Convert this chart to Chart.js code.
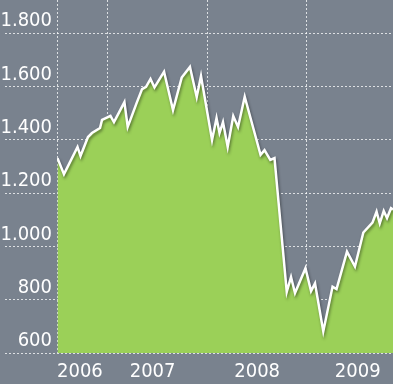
<!DOCTYPE html>
<html>
<head>
<meta charset="utf-8">
<script src="https://cdn.jsdelivr.net/npm/chart.js@4.4.1/dist/chart.umd.min.js"></script>
<style>
html,body{margin:0;padding:0;background:#79828e;}
#wrap{width:393px;height:384px;position:relative;}
</style>
</head>
<body>
<div id="wrap"><canvas id="c" width="393" height="384"></canvas></div>
<script>
// Time in decimal years
const dates = [2006.495,2006.560,2006.696,2006.726,2006.801,2006.841,2006.922,2006.942,2007.027,2007.062,
  2007.167,2007.200,2007.290,2007.344,2007.384,2007.429,2007.469,2007.565,2007.655,2007.742,
  2007.825,2007.893,2007.936,2008.047,2008.092,2008.122,2008.157,2008.204,2008.260,2008.308,
  2008.375,2008.534,2008.574,2008.632,2008.674,2008.797,2008.840,2008.880,2008.985,2009.041,
  2009.081,2009.164,2009.257,2009.297,2009.402,2009.482,2009.566,2009.658,2009.699,2009.731,
  2009.771,2009.804,2009.844,2009.864];
const values = [1331,1271,1373,1339,1410,1425,1444,1474,1489,1466,
  1541,1448,1538,1590,1598,1628,1596,1655,1511,1633,
  1673,1560,1639,1399,1481,1425,1466,1373,1489,1448,
  1561,1343,1361,1324,1331,829,885,825,918,832,
  861,681,849,840,980,924,1052,1089,1130,1086,
  1133,1106,1143,1138];
const yTicks = [600,800,1000,1200,1400,1600,1800];
const yearLabels = ['2006','2007','2008','2009'];
const yearLabelPos = [2006.72,2007.45,2008.5,2009.51];
const yearBounds = [2006.49,2007,2008,2009];

const pts = dates.map((d,i)=>({x:d,y:values[i]}));
const FONT = '"DejaVu Sans Condensed","Roboto",sans-serif';
const GRID = 'rgba(255,255,255,0.75)';

const xTickValues = yearBounds.concat(yearLabelPos).sort((a,b)=>a-b);

const shadowPlugin = {
  id:'shadow',
  beforeDatasetDraw(chart,args){
    if(args.index===1){
      const c=chart.ctx; c.save();
      c.shadowColor='rgba(0,0,0,0.45)'; c.shadowBlur=3; c.shadowOffsetX=1; c.shadowOffsetY=2;
    }
  },
  afterDatasetDraw(chart,args){
    if(args.index===1){ chart.ctx.restore(); }
  }
};

new Chart(document.getElementById('c'),{
  type:'line',
  data:{datasets:[
    {data:pts,fill:'start',backgroundColor:'#9bd058',borderWidth:0,pointRadius:0,tension:0,order:2},
    {data:pts,fill:false,borderColor:'#ffffff',borderWidth:2.5,pointRadius:0,tension:0,borderJoinStyle:'miter',order:1}
  ]},
  options:{
    responsive:false,animation:false,
    layout:{padding:0},
    plugins:{legend:{display:false},tooltip:{enabled:false}},
    scales:{
      x:{type:'linear',min:2006.49,max:2009.864,z:1,
        afterBuildTicks(s){ s.ticks = xTickValues.map(v=>({value:v})); },
        afterFit(s){ s.height = 31; },
        border:{display:false,dash:[2,2]},
        grid:{drawTicks:false,lineWidth:1,
          color(ctx){ const v=ctx.tick&&ctx.tick.value; return yearBounds.some(b=>Math.abs(b-v)<1e-6)?GRID:'rgba(0,0,0,0)'; }},
        ticks:{padding:7,color:'#ffffff',font:{family:FONT,size:20},maxRotation:0,autoSkip:false,
          callback(v){ const i=yearLabelPos.findIndex(p=>Math.abs(p-v)<1e-6); return i>=0?yearLabels[i]:''; }}
      },
      y:{type:'linear',min:600,max:1924,z:1,
        afterBuildTicks(s){ s.ticks = yTicks.map(v=>({value:v})); },
        afterFit(s){ s.width = 57; },
        border:{display:false,dash:[2,2]},
        grid:{color:GRID,lineWidth:1,drawTicks:true,tickLength:52,tickColor:GRID,tickBorderDash:[2,2]},
        ticks:{padding:-47,labelOffset:-12,color:'#ffffff',font:{family:FONT,size:20},
          callback(v){ const s=String(v); return s.length>3? s.slice(0,s.length-3)+'.'+s.slice(-3) : s; }}
      }
    }
  },
  plugins:[shadowPlugin]
});
</script>
</body>
</html>
